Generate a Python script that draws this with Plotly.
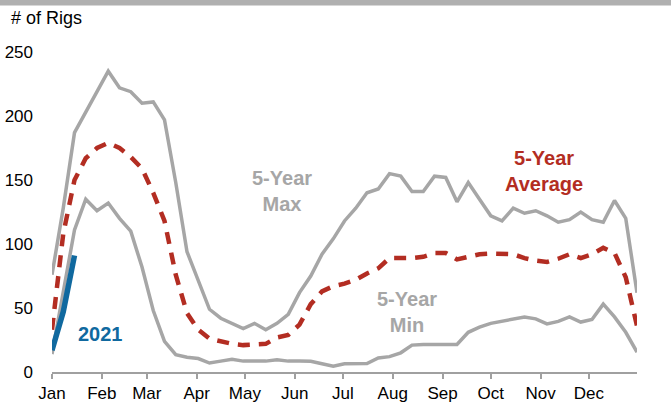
import pandas as pd
import plotly.graph_objects as go

# Weekly oil-directed rig counts by week of year (53 weekly readings, Jan 1 .. Dec 31)
weeks = pd.date_range("2021-01-01", periods=53, freq="7D")

five_year_max = [76, 128, 187, 203, 220, 235, 222, 219, 210, 211, 197, 148, 94, 72, 49, 42, 38, 34,
                 38, 33, 38, 45, 62, 75, 92, 104, 118, 128, 140, 143, 155, 153, 141, 141, 153, 152,
                 133, 148, 135, 122, 118, 128, 124, 126, 122, 117, 119, 125, 119, 117, 134, 120, 62]

five_year_avg = [33, 108, 150, 167, 175, 179, 175, 168, 159, 140, 118, 76, 46, 33, 26, 24, 22, 21,
                 21.5, 22, 27, 29, 37, 53, 63, 67, 69, 72, 77, 81, 89, 89, 89, 90, 93, 93,
                 88, 90, 92, 92.5, 92.5, 92, 89, 87, 86, 88.5, 92, 89, 92, 97, 93, 74, 36]

five_year_min = [14, 62, 111, 135, 126, 132, 120, 110, 82, 48, 24, 13.5, 11.5, 10.5, 7, 8.5, 10, 8.5,
                 8.5, 8.5, 9.5, 8.5, 8.5, 8.4, 6.5, 4.5, 6.5, 6.6, 6.6, 11, 12, 15, 21, 21.5, 21.5, 21.5,
                 21.5, 31, 35, 38, 39.5, 41, 43, 41.5, 37.6, 39.5, 43, 39, 41, 53, 43, 31, 15.5]

rigs_2021 = [17, 47, 91]

GRAY = "#a6a6a6"
RED = "#b32d22"
BLUE = "#10699f"
FONT = "Liberation Sans, Arial, sans-serif"

# Canvas and plot-area geometry (pixels)
W, H = 671, 404
ML, MR, MT, MB = 52, 34, 52, 32
PW, PH = W - ML - MR, H - MT - MB


def px_x(p):
    return (p - ML) / PW


def px_y(p):
    return (H - MB - p) / PH


fig = go.Figure()
fig.add_trace(go.Scatter(x=weeks, y=five_year_max, mode="lines",
                         line=dict(color=GRAY, width=3.5), hoverinfo="skip"))
fig.add_trace(go.Scatter(x=weeks, y=five_year_min, mode="lines",
                         line=dict(color=GRAY, width=3.5), hoverinfo="skip"))
fig.add_trace(go.Scatter(x=weeks, y=five_year_avg, mode="lines",
                         line=dict(color=RED, width=4.5, dash="12px,9px"), hoverinfo="skip"))
fig.add_trace(go.Scatter(x=weeks[:len(rigs_2021)], y=rigs_2021, mode="lines",
                         line=dict(color=BLUE, width=5.5), hoverinfo="skip"))

annotations = [
    dict(text="# of Rigs", xref="paper", yref="paper", x=px_x(9), y=px_y(18),
         xanchor="left", yanchor="middle", showarrow=False,
         font=dict(family=FONT, size=18, color="black")),
    dict(text="<b>5-Year<br>Max</b>", x="2021-05-24", y=141.5, showarrow=False,
         font=dict(family=FONT, size=20, color=GRAY)),
    dict(text="<b>5-Year<br>Average</b>", x="2021-11-03", y=157, showarrow=False,
         font=dict(family=FONT, size=20, color=RED)),
    dict(text="<b>5-Year<br>Min</b>", x="2021-08-10", y=47, showarrow=False,
         font=dict(family=FONT, size=20, color=GRAY)),
    dict(text="<b>2021</b>", x="2021-01-31", y=29.5, showarrow=False,
         font=dict(family=FONT, size=20, color=BLUE)),
]

fig.update_layout(
    width=W, height=H, autosize=False,
    margin=dict(l=ML, r=MR, t=MT, b=MB, pad=0, autoexpand=False),
    paper_bgcolor="white", plot_bgcolor="white",
    showlegend=False,
    font=dict(family=FONT, size=17, color="black"),
    annotations=annotations,
    shapes=[dict(type="rect", xref="paper", yref="paper",
                 x0=px_x(0), x1=px_x(W), y0=px_y(5.5), y1=px_y(0),
                 fillcolor="#b0b0b0", line=dict(width=0), layer="above")],
    xaxis=dict(type="date", range=["2021-01-01", "2021-12-31"], automargin=False,
               tick0="2021-01-01", dtick="M1", tickformat="%b",
               ticks="outside", ticklen=5, tickwidth=1.5, tickcolor="#a0a0a0",
               showline=True, linecolor="#a0a0a0", linewidth=1.5,
               showgrid=False, zeroline=False,
               tickfont=dict(family=FONT, size=17, color="black")),
    yaxis=dict(range=[0, 250], dtick=50, showgrid=False, zeroline=False, automargin=False,
               showline=False, ticks="", ticklabelstandoff=18,
               tickfont=dict(family=FONT, size=17, color="black")),
)

fig.write_html("out.html")
